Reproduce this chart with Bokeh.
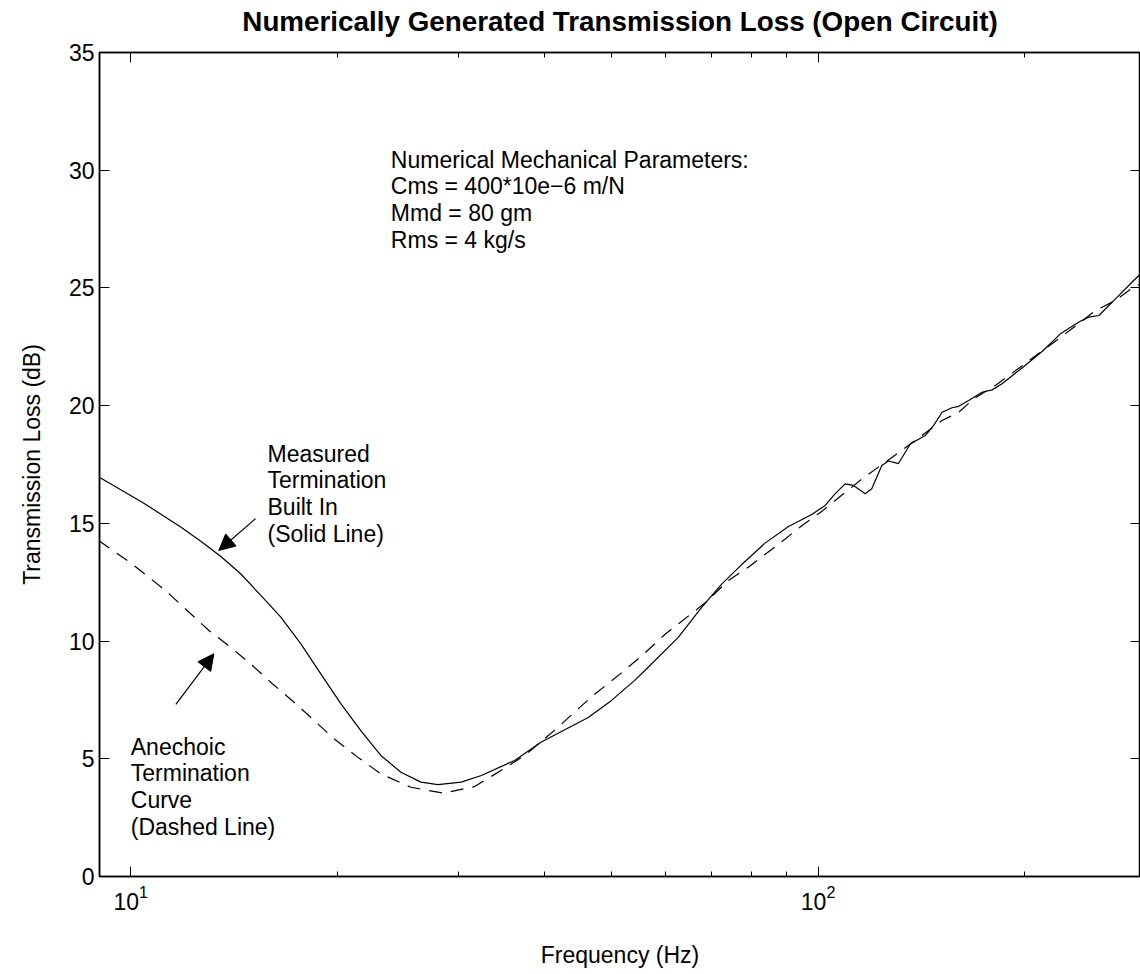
from bokeh.plotting import figure
from bokeh.models import (LogAxis, LinearAxis, FixedTicker, Range1d, Label,
                          Arrow, NormalHead, ColumnDataSource)
from bokeh.embed import file_html
from bokeh.resources import INLINE

FONT = "Liberation Sans"

# ---- data ----
measured_freq = [9.0, 10.39, 11.82, 12.63, 13.51, 14.45, 15.46, 16.53, 17.68, 18.90,
                 20.21, 21.61, 23.11, 24.72, 26.43, 27.98, 30.25, 32.36, 36.18, 39.57,
                 46.3, 50.06, 54.1, 55.97, 62.6, 67.7, 72.4, 77.42, 83.71, 90.55,
                 97.9, 102.4, 105.9, 109.5, 112.6, 117.1, 119.7, 123.8, 126.6, 130.9,
                 136.2, 143.2, 147.3, 151.5, 156.6, 160.2, 165.6, 173.2, 179.1, 185.2,
                 198.0, 211.8, 225.2, 239.6, 247.7, 256.2, 272.4, 286.4, 294.6]
measured_tl = [16.96, 15.90, 14.85, 14.25, 13.60, 12.86, 11.94, 11.02, 9.88, 8.61,
               7.34, 6.20, 5.14, 4.43, 4.01, 3.90, 4.01, 4.29, 4.93, 5.71,
               6.75, 7.48, 8.33, 8.75, 10.16, 11.43, 12.42, 13.25, 14.16, 14.87,
               15.38, 15.76, 16.26, 16.68, 16.61, 16.26, 16.47, 17.46, 17.65, 17.54,
               18.37, 18.73, 19.16, 19.72, 19.91, 19.97, 20.22, 20.57, 20.67, 20.93,
               21.6, 22.3, 23.05, 23.55, 23.76, 23.83, 24.61, 25.25, 25.60]

anechoic_freq = [8.98, 10.04, 11.23, 12.08, 12.99, 13.97, 15.03, 16.07, 17.28, 18.48,
                 19.76, 21.38, 23.11, 25.56, 28.46, 31.64, 34.42, 37.42, 41.85, 44.75,
                 47.3, 51.76, 55.67, 59.84, 64.74, 68.45, 74.03, 79.16, 86.58, 94.7,
                 101.2, 104.1, 112.0, 115.8, 132.4, 151.5, 160.2, 168.4, 181.1, 219.0,
                 235.6, 253.3, 270.9, 289.7, 295.0]
anechoic_tl = [14.27, 13.28, 12.15, 11.30, 10.45, 9.74, 8.96, 8.19, 7.40, 6.63,
               5.85, 5.07, 4.36, 3.79, 3.54, 3.82, 4.47, 5.14, 6.34, 7.12,
               7.74, 8.65, 9.43, 10.28, 11.06, 11.62, 12.57, 13.14, 14.0, 14.9,
               15.5, 15.8, 16.54, 16.89, 18.1, 19.37, 19.72, 20.29, 20.86, 22.63,
               23.33, 24.04, 24.47, 25.11, 25.15]

x_major_ticks = [10, 100]
x_minor_ticks = [20, 30, 40, 50, 60, 70, 80, 90, 200]
y_ticks = [0, 5, 10, 15, 20, 25, 30, 35]

title_text = "Numerically Generated Transmission Loss (Open Circuit)"
x_label = "Frequency (Hz)"
y_label = "Transmission Loss (dB)"
params_lines = ["Numerical Mechanical Parameters:", "Cms = 400*10e\u22126 m/N",
                "Mmd = 80 gm", "Rms = 4 kg/s"]
measured_lines = ["Measured", "Termination", "Built In", "(Solid Line)"]
anechoic_lines = ["Anechoic", "Termination", "Curve", "(Dashed Line)"]

X_MIN, X_MAX = 9.005, 294.5

# ---- figure ----
p = figure(width=1140, height=974, x_axis_type="log",
           x_range=Range1d(X_MIN, X_MAX), y_range=Range1d(0, 35),
           output_backend="svg", toolbar_location=None,
           min_border_left=99, min_border_right=0, min_border_top=52,
           min_border_bottom=98)
p.grid.visible = False
p.outline_line_color = "black"
p.outline_line_width = 1.5
p.background_fill_color = "white"
p.border_fill_color = "white"

xa = p.xaxis[0]
xa.ticker = FixedTicker(ticks=x_major_ticks, minor_ticks=x_minor_ticks)
ya = p.yaxis[0]
ya.ticker = FixedTicker(ticks=y_ticks)
for ax in (xa, ya):
    ax.axis_line_width = 1.5
    ax.axis_line_color = "black"
    ax.major_tick_in = 10
    ax.major_tick_out = 0
    ax.minor_tick_in = 5
    ax.minor_tick_out = 0
    ax.major_tick_line_color = "black"
    ax.minor_tick_line_color = "black"
    ax.major_label_text_font = FONT
    ax.major_label_text_font_size = "23px"
    ax.major_label_text_color = "black"
    ax.axis_label_text_font = FONT
    ax.axis_label_text_font_size = "23px"
    ax.axis_label_text_font_style = "normal"
    ax.axis_label_text_color = "black"
xa.axis_label = x_label
ya.axis_label = y_label
xa.major_label_standoff = 8
xa.axis_label_standoff = 29
ya.major_label_standoff = 5
ya.axis_label_standoff = 21

top = LogAxis(ticker=FixedTicker(ticks=x_major_ticks, minor_ticks=x_minor_ticks))
right = LinearAxis(ticker=FixedTicker(ticks=y_ticks))
for ax in (top, right):
    ax.axis_line_width = 1.5
    ax.axis_line_color = "black"
    ax.major_tick_in = 10
    ax.major_tick_out = 0
    ax.minor_tick_in = 5
    ax.minor_tick_out = 0
    ax.major_label_text_font_size = "1px"
    ax.major_label_text_alpha = 0
    ax.major_label_standoff = 0
    ax.major_tick_line_color = "black"
    ax.minor_tick_line_color = "black"

# the chart title is carried by the top axis label so it sits right above the frame
top.axis_label = title_text
top.axis_label_text_font = FONT
top.axis_label_text_font_size = "27.8px"
top.axis_label_text_font_style = "bold"
top.axis_label_text_color = "black"
top.axis_label_standoff = 16
p.add_layout(top, "above")
p.add_layout(right, "right")

# ---- curves ----
src_m = ColumnDataSource(dict(f=measured_freq, tl=measured_tl))
src_a = ColumnDataSource(dict(f=anechoic_freq, tl=anechoic_tl))
p.line("f", "tl", source=src_m, line_color="black", line_width=1.2)
p.line("f", "tl", source=src_a, line_color="black", line_width=1.2, line_dash="13 9")

# ---- annotations ----
def add_lines(lines, x, y0, dy):
    for i, t in enumerate(lines):
        p.add_layout(Label(x=x, y=y0 - i * dy, text=t, text_font=FONT,
                           text_font_size="23px", text_color="black",
                           text_baseline="alphabetic", text_align="left"))

add_lines(params_lines, 23.9, 30.45, 1.133)
add_lines(measured_lines, 15.81, 17.96, 1.133)
add_lines(anechoic_lines, 10.0, 5.52, 1.133)

p.add_layout(Arrow(x_start=15.19, y_start=15.20, x_end=13.43, y_end=13.85,
                   line_color="black", line_width=1.2,
                   end=NormalHead(size=16, fill_color="black", line_color="black")))
p.add_layout(Arrow(x_start=11.63, y_start=7.31, x_end=13.21, y_end=9.46,
                   line_color="black", line_width=1.2,
                   end=NormalHead(size=16, fill_color="black", line_color="black")))

open("out.html", "w").write(file_html(p, INLINE))
